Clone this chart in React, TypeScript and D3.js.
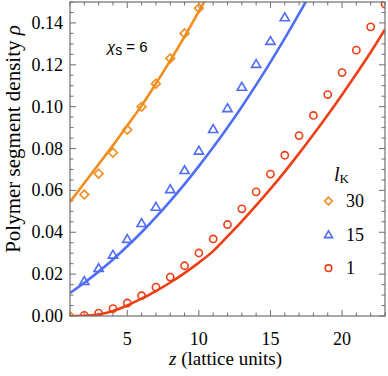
import { useEffect, useRef } from 'react'
import * as d3 from 'd3'

// chi_s = 6, density profiles for three Kuhn lengths
const xMajorTicks = [5, 10, 15, 20]
const yMajorTicks = [0, 0.02, 0.04, 0.06, 0.08, 0.1, 0.12, 0.14]

// simulation markers
const zDiamond = [1, 2, 3, 4, 5, 6, 7, 8, 9, 10]
const rhoDiamond = [0, 0.058, 0.068, 0.078, 0.089, 0.1, 0.111, 0.123, 0.135, 0.147]

const zTriangle = [2, 3, 4, 5, 6, 7, 8, 9, 10, 11, 12, 13, 14, 15, 16]
const rhoTriangle = [0.0167, 0.0229, 0.0293, 0.0368, 0.0444, 0.0522, 0.0606, 0.0697, 0.079, 0.0893, 0.0993, 0.1095, 0.1204, 0.1314, 0.1427]

const zCircle = [2, 3, 4, 5, 6, 7, 8, 9, 10, 11, 12, 13, 14, 15, 16, 17, 18, 19, 20, 21, 22, 23]
const rhoCircle = [0.0003, 0.0014, 0.0035, 0.0062, 0.0097, 0.0138, 0.0186, 0.024, 0.0301, 0.0368, 0.0437, 0.0512, 0.0593, 0.0678, 0.0768, 0.0862, 0.0958, 0.1058, 0.1163, 0.127, 0.1381, 0.149]

// theory curves
const zLine30 = [1, 2, 3, 4, 5, 6, 7, 8, 9, 10, 11]
const rhoLine30 = [0.0545, 0.0635, 0.0725, 0.0815, 0.091, 0.1005, 0.111, 0.122, 0.1335, 0.1455, 0.158]

const zLine15 = [1, 2, 3, 4, 5, 6, 7, 8, 9, 10, 11, 12, 13, 14, 15, 16, 17, 18]
const rhoLine15 = [0.011, 0.0159, 0.0212, 0.027, 0.0333, 0.04, 0.0472, 0.0549, 0.063, 0.0716, 0.0806, 0.0901, 0.1, 0.1104, 0.1213, 0.1326, 0.1444, 0.1567]

const zLine1 = [1, 2, 3, 4, 5, 6, 7, 8, 9, 10, 11, 12, 13, 14, 15, 16, 17, 18, 19, 20, 21, 22, 23]
const rhoLine1 = [0, 0.0001, 0.0007, 0.0024, 0.005, 0.0083, 0.0119, 0.016, 0.0205, 0.0255, 0.031, 0.038, 0.0452, 0.0528, 0.0607, 0.069, 0.0777, 0.0867, 0.096, 0.1057, 0.1157, 0.126, 0.137]

const legendLabels = ['30', '15', '1']

const ORANGE = '#f28c1c'
const BLUE = '#4f6df5'
const RED = '#ee3e14'

const SERIF = 'Liberation Serif, Times New Roman, serif'
const SANS = 'Liberation Sans, Arial, sans-serif'

function App() {
  const svgRef = useRef(null)

  useEffect(() => {
    if (!svgRef.current) return
    const root = d3.select(svgRef.current)
    root.selectAll('*').remove()

    const W = 388
    const H = 376
    const margin = { top: 2, right: 3, bottom: 60, left: 70 }
    const width = W - margin.left - margin.right
    const height = H - margin.top - margin.bottom

    const x = d3.scaleLinear().domain([1, 23]).range([0, width])
    const y = d3.scaleLinear().domain([0, 0.15]).range([height, 0])

    const g = root.append('g').attr('transform', `translate(${margin.left},${margin.top})`)

    g.append('clipPath').attr('id', 'plot-clip')
      .append('rect').attr('width', width).attr('height', height)

    const frameColor = '#6e6e6e'

    // ticks (inward, all four sides)
    const xMinor = d3.range(1, 24).filter(v => !xMajorTicks.includes(v))
    const yMinor = d3.range(0, 0.1501, 0.005).filter(v => !yMajorTicks.some(t => Math.abs(t - v) < 1e-6))

    const tickG = g.append('g').attr('stroke', frameColor).attr('stroke-width', 1)
    const addXTicks = (vals, len) => {
      vals.forEach(v => {
        tickG.append('line').attr('x1', x(v)).attr('x2', x(v)).attr('y1', height).attr('y2', height - len)
        tickG.append('line').attr('x1', x(v)).attr('x2', x(v)).attr('y1', 0).attr('y2', len)
      })
    }
    const addYTicks = (vals, len) => {
      vals.forEach(v => {
        tickG.append('line').attr('x1', 0).attr('x2', len).attr('y1', y(v)).attr('y2', y(v))
        tickG.append('line').attr('x1', width).attr('x2', width - len).attr('y1', y(v)).attr('y2', y(v))
      })
    }
    addXTicks(xMajorTicks, 6)
    addXTicks(xMinor, 3.5)
    addYTicks(yMajorTicks, 6)
    addYTicks(yMinor, 3.5)

    // tick labels
    g.append('g').selectAll('text')
      .data(xMajorTicks).enter().append('text')
      .attr('x', d => x(d)).attr('y', height + 29)
      .attr('text-anchor', 'middle')
      .attr('font-family', SERIF).attr('font-size', 18)
      .text(d => d)

    g.append('g').selectAll('text')
      .data(yMajorTicks).enter().append('text')
      .attr('x', -7).attr('y', d => y(d) + 6)
      .attr('text-anchor', 'end')
      .attr('font-family', SERIF).attr('font-size', 18)
      .text(d => d3.format('.2f')(d))

    // axis labels
    const xLab = g.append('text')
      .attr('x', width / 2 - 2).attr('y', height + 49)
      .attr('text-anchor', 'middle')
      .attr('font-family', SERIF).attr('font-size', 19)
    xLab.append('tspan').attr('font-style', 'italic').text('z')
    xLab.append('tspan').text(' (lattice units)')

    const yLab = g.append('text')
      .attr('transform', `translate(${-margin.left + 20},${137}) rotate(-90)`)
      .attr('text-anchor', 'middle')
      .attr('font-family', SERIF).attr('font-size', 21)
    yLab.append('tspan').text('Polymer segment density ')
    yLab.append('tspan').attr('font-style', 'italic').text('ρ')

    // curves
    const plot = g.append('g').attr('clip-path', 'url(#plot-clip)')
    const line = d3.line().x(d => x(d[0])).y(d => y(d[1])).curve(d3.curveMonotoneX)
    const curves = [
      { z: zLine30, rho: rhoLine30, color: ORANGE },
      { z: zLine15, rho: rhoLine15, color: BLUE },
      { z: zLine1, rho: rhoLine1, color: RED },
    ]
    curves.forEach(c => {
      plot.append('path')
        .datum(c.z.map((v, i) => [v, c.rho[i]]))
        .attr('fill', 'none')
        .attr('stroke', c.color)
        .attr('stroke-width', 2.6)
        .attr('d', line)
    })

    // markers
    const diamond = s => `M0,${-s}L${s},0L0,${s}L${-s},0Z`
    const triangle = s => `M0,${-s * 0.95}L${s},${s * 0.75}L${-s},${s * 0.75}Z`
    const drawMarkers = (parent, pts, shape, color) => {
      pts.forEach(([px, py]) => {
        if (shape === 'circle') {
          parent.append('circle').attr('cx', px).attr('cy', py).attr('r', 3.6)
            .attr('fill', 'none').attr('stroke', color).attr('stroke-width', 1.6)
        } else {
          parent.append('path')
            .attr('d', shape === 'diamond' ? diamond(4.4) : triangle(4.6))
            .attr('transform', `translate(${px},${py})`)
            .attr('fill', 'none').attr('stroke', color).attr('stroke-width', 1.6)
        }
      })
    }
    drawMarkers(plot, zDiamond.map((v, i) => [x(v), y(rhoDiamond[i])]), 'diamond', ORANGE)
    drawMarkers(plot, zTriangle.map((v, i) => [x(v), y(rhoTriangle[i])]), 'triangle', BLUE)
    drawMarkers(plot, zCircle.map((v, i) => [x(v), y(rhoCircle[i])]), 'circle', RED)

    // frame
    g.append('rect').attr('width', width).attr('height', height)
      .attr('fill', 'none').attr('stroke', frameColor).attr('stroke-width', 1.2)

    // annotation
    const ann = g.append('text')
      .attr('x', 107 - margin.left).attr('y', 52 - margin.top)
      .attr('font-family', SANS).attr('font-size', 15)
    ann.append('tspan').attr('font-style', 'italic').text('χ')
    ann.append('tspan').attr('dy', 3).attr('font-size', 14).text('s')
    ann.append('tspan').attr('dy', -3).text(' = 6')

    // legend
    const lx = 328.5 - margin.left
    const legTitle = g.append('text')
      .attr('x', 334 - margin.left).attr('y', 181 - margin.top)
      .attr('font-family', SERIF).attr('font-size', 20)
    legTitle.append('tspan').attr('font-style', 'italic').text('l')
    legTitle.append('tspan').attr('dy', 2).attr('font-size', 13).text('K')

    const legColors = [ORANGE, BLUE, RED]
    const legShapes = ['diamond', 'triangle', 'circle']
    legendLabels.forEach((lab, i) => {
      const cy = 201 - margin.top + i * 33.6
      const item = g.append('g')
      if (legShapes[i] === 'circle') {
        item.append('circle').attr('cx', lx).attr('cy', cy).attr('r', 3.3)
          .attr('fill', 'none').attr('stroke', legColors[i]).attr('stroke-width', 1.6)
      } else {
        item.append('path')
          .attr('d', legShapes[i] === 'diamond' ? diamond(3.8) : triangle(4))
          .attr('transform', `translate(${lx},${cy})`)
          .attr('fill', 'none').attr('stroke', legColors[i]).attr('stroke-width', 1.6)
      }
      item.append('text')
        .attr('x', 346 - margin.left).attr('y', cy + 6)
        .attr('font-family', SERIF).attr('font-size', 18)
        .text(lab)
    })
  }, [])

  return (
    <svg
      ref={svgRef}
      width={388}
      height={376}
      style={{ position: 'absolute', left: 0, top: 0, background: 'white' }}
    />
  )
}

export default App
